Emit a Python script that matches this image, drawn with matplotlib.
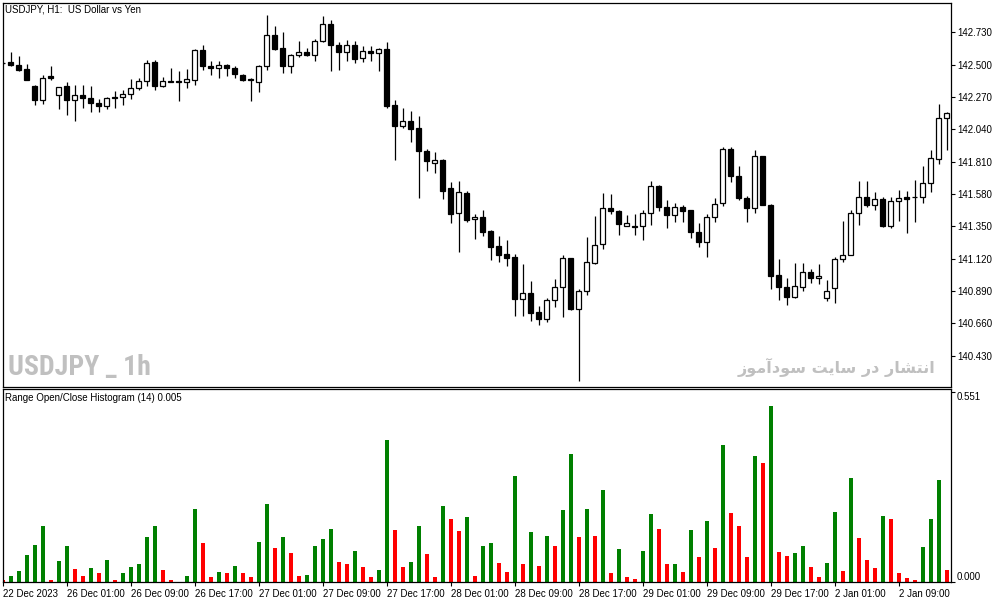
import numpy as np
import matplotlib.pyplot as plt
from matplotlib import font_manager

plt.rcParams['font.family'] = ['Liberation Sans', 'DejaVu Sans']

# canvas size in pixels
W, H = 1003, 603

# USDJPY H1 candles (one per hour, left to right)
opens = [142.514, 142.517, 142.500, 142.472, 142.351, 142.246, 142.422, 142.284, 142.351, 142.251,
         142.287, 142.263, 142.227, 142.203, 142.270, 142.270, 142.292, 142.334, 142.386, 142.517,
         142.346, 142.386, 142.381, 142.377, 142.388, 142.607, 142.493, 142.474, 142.500, 142.479,
         142.429, 142.400, 142.374, 142.488, 142.714, 142.619, 142.488, 142.569, 142.593, 142.569,
         142.666, 142.792, 142.643, 142.588, 142.643, 142.548, 142.600, 142.583, 142.614, 142.215,
         142.061, 142.101, 142.049, 141.888, 141.804, 141.824, 141.622, 141.444, 141.587, 141.401,
         141.416, 141.318, 141.211, 141.154, 141.131, 140.832, 140.874, 140.739, 140.689, 140.827,
         140.921, 141.124, 140.761, 140.891, 141.088, 141.226, 141.480, 141.460, 141.356, 141.354,
         141.356, 141.444, 141.638, 141.489, 141.432, 141.491, 141.463, 141.313, 141.242, 141.416,
         141.515, 141.900, 141.710, 141.553, 141.480, 141.847, 141.503, 141.005, 140.917, 140.846,
         140.917, 141.024, 140.981, 140.839, 140.914, 141.117, 141.147, 141.444, 141.562, 141.503,
         141.544, 141.354, 141.527, 141.560, 141.558, 141.562, 141.658, 141.829, 142.121]
highs = [142.518, 142.588, 142.559, 142.507, 142.355, 142.429, 142.493, 142.343, 142.374, 142.358,
         142.358, 142.351, 142.256, 142.270, 142.310, 142.317, 142.398, 142.405, 142.536, 142.536,
         142.413, 142.477, 142.452, 142.470, 142.612, 142.643, 142.529, 142.529, 142.507, 142.488,
         142.436, 142.405, 142.496, 142.856, 142.773, 142.735, 142.578, 142.669, 142.619, 142.683,
         142.849, 142.821, 142.659, 142.673, 142.666, 142.630, 142.635, 142.619, 142.659, 142.251,
         142.192, 142.173, 142.137, 141.902, 141.878, 141.829, 141.669, 141.674, 141.603, 141.439,
         141.468, 141.325, 141.282, 141.254, 141.154, 141.083, 140.964, 140.784, 140.839, 140.974,
         141.147, 141.128, 140.903, 141.273, 141.425, 141.587, 141.582, 141.468, 141.432, 141.439,
         141.468, 141.674, 141.646, 141.539, 141.515, 141.503, 141.468, 141.373, 141.439, 141.553,
         141.914, 141.918, 141.776, 141.567, 141.890, 141.852, 141.508, 141.119, 140.986, 141.088,
         141.092, 141.045, 141.083, 140.969, 141.131, 141.391, 141.468, 141.674, 141.674, 141.591,
         141.558, 141.562, 141.610, 141.603, 141.681, 141.781, 141.895, 142.222, 142.165]
lows = [142.507, 142.488, 142.452, 142.388, 142.215, 142.222, 142.388, 142.185, 142.144, 142.096,
        142.192, 142.160, 142.160, 142.185, 142.192, 142.215, 142.256, 142.317, 142.351, 142.322,
        142.341, 142.374, 142.239, 142.334, 142.358, 142.465, 142.427, 142.403, 142.417, 142.403,
        142.381, 142.239, 142.303, 142.460, 142.607, 142.441, 142.441, 142.555, 142.564, 142.524,
        142.659, 142.452, 142.460, 142.524, 142.512, 142.517, 142.524, 142.452, 142.192, 141.824,
        142.049, 141.947, 141.551, 141.747, 141.733, 141.544, 141.377, 141.171, 141.384, 141.261,
        141.282, 141.112, 141.099, 141.069, 140.713, 140.713, 140.679, 140.649, 140.672, 140.779,
        140.708, 140.758, 140.252, 140.862, 141.085, 141.190, 141.439, 141.290, 141.349, 141.290,
        141.254, 141.361, 141.456, 141.337, 141.384, 141.384, 141.266, 141.206, 141.135, 141.384,
        141.496, 141.662, 141.534, 141.384, 141.448, 141.500, 140.903, 140.827, 140.791, 140.843,
        140.893, 140.950, 140.941, 140.822, 140.807, 141.099, 141.144, 141.361, 141.491, 141.463,
        141.346, 141.337, 141.391, 141.302, 141.384, 141.515, 141.591, 141.795, 141.890]
closes = [142.511, 142.498, 142.465, 142.393, 142.246, 142.405, 142.408, 142.341, 142.246, 142.287,
          142.260, 142.227, 142.203, 142.263, 142.260, 142.292, 142.334, 142.386, 142.512, 142.346,
          142.386, 142.377, 142.380, 142.400, 142.607, 142.493, 142.474, 142.498, 142.474, 142.434,
          142.393, 142.388, 142.493, 142.714, 142.612, 142.488, 142.571, 142.593, 142.569, 142.669,
          142.792, 142.638, 142.588, 142.643, 142.543, 142.600, 142.583, 142.614, 142.208, 142.061,
          142.101, 142.044, 141.883, 141.812, 141.824, 141.603, 141.439, 141.591, 141.396, 141.420,
          141.313, 141.206, 141.147, 141.128, 140.832, 140.874, 140.736, 140.689, 140.827, 140.921,
          141.124, 140.761, 140.891, 141.095, 141.218, 141.480, 141.456, 141.366, 141.373, 141.342,
          141.444, 141.638, 141.487, 141.432, 141.491, 141.456, 141.313, 141.242, 141.416, 141.510,
          141.900, 141.705, 141.551, 141.480, 141.847, 141.503, 140.998, 140.921, 140.846, 140.926,
          141.024, 140.981, 140.998, 140.891, 141.117, 141.147, 141.444, 141.562, 141.503, 141.544,
          141.349, 141.532, 141.551, 141.546, 141.562, 141.658, 141.836, 142.121, 142.156]

# Range Open/Close Histogram (14) values
rng_hist = [0.004, 0.018, 0.030, 0.077, 0.106, 0.163, 0.004, 0.059, 0.103, 0.036,
            0.018, 0.039, 0.024, 0.062, 0.004, 0.024, 0.044, 0.050, 0.129, 0.163,
            0.033, 0.004, 0.000, 0.018, 0.210, 0.111, 0.015, 0.027, 0.024, 0.047,
            0.024, 0.013, 0.114, 0.224, 0.097, 0.129, 0.082, 0.018, 0.019, 0.105,
            0.123, 0.152, 0.056, 0.050, 0.088, 0.044, 0.015, 0.033, 0.410, 0.149,
            0.042, 0.056, 0.163, 0.079, 0.015, 0.219, 0.181, 0.146, 0.187, 0.018,
            0.105, 0.111, 0.053, 0.027, 0.306, 0.050, 0.143, 0.047, 0.134, 0.103,
            0.207, 0.369, 0.129, 0.210, 0.132, 0.265, 0.024, 0.094, 0.013, 0.007,
            0.088, 0.195, 0.152, 0.050, 0.051, 0.027, 0.149, 0.071, 0.175, 0.097,
            0.396, 0.198, 0.161, 0.073, 0.366, 0.343, 0.510, 0.085, 0.076, 0.082,
            0.105, 0.044, 0.015, 0.053, 0.201, 0.030, 0.300, 0.126, 0.062, 0.039,
            0.192, 0.181, 0.024, 0.010, 0.004, 0.100, 0.181, 0.294, 0.033]

price_ticks = [142.730, 142.500, 142.270, 142.040, 141.810, 141.580, 141.350, 141.120, 140.890, 140.660, 140.430]
hist_ticks = [0.000, 0.551]
time_ticks = [0, 8, 16, 24, 32, 40, 48, 56, 64, 72, 80, 88, 96, 104, 112]
time_labels = ['22 Dec 2023', '26 Dec 01:00', '26 Dec 09:00', '26 Dec 17:00', '27 Dec 01:00',
               '27 Dec 09:00', '27 Dec 17:00', '28 Dec 01:00', '28 Dec 09:00', '28 Dec 17:00',
               '29 Dec 01:00', '29 Dec 09:00', '29 Dec 17:00', '2 Jan 01:00', '2 Jan 09:00']

o = np.array(opens)
h = np.array(highs)
l = np.array(lows)
c = np.array(closes)
x = np.arange(len(o))
v = np.array(rng_hist)


def box(x0, y0, x1, y1):
    # pixel box -> figure fraction rect
    return [x0 / W, 1 - y1 / H, (x1 - x0) / W, (y1 - y0) / H]


fig = plt.figure(figsize=(W / 100, H / 100), dpi=100)
ax1 = fig.add_axes(box(2.7, 2.7, 950.7, 387.3))
ax2 = fig.add_axes(box(2.7, 389.3, 950.7, 582.3))

# candles
up = c >= o
body_lo = np.minimum(o, c)
body_h = np.maximum(np.abs(c - o), 0.004)
ax1.vlines(x, l, h, color='black', linewidth=0.9, zorder=1)
ax1.bar(x, body_h, bottom=body_lo, width=0.55,
        color=np.where(up, 'white', 'black'), edgecolor='black', linewidth=0.9, zorder=2)

ax1.set_xlim(0, 118.5)
ax1.set_ylim(140.205, 142.941)
ax1.set_xticks([])
ax1.yaxis.tick_right()
ax1.set_yticks(price_ticks)
ax1.set_yticklabels(['%.3f' % p for p in price_ticks])
ax1.tick_params(axis='y', direction='out', length=3, width=0.8, pad=1.5, labelsize=7)

# histogram: green when the value grows, red otherwise
grow = np.r_[False, v[1:] > v[:-1]]
ax2.bar(x, v, width=0.5, color=np.where(grow, '#008000', '#ff0000'))
ax2.set_xlim(0, 118.5)
ax2.set_ylim(-0.0017, 0.558)
ax2.yaxis.tick_right()
ax2.set_yticks(hist_ticks)
ax2.set_yticklabels(['%.3f' % t for t in hist_ticks])
for lbl, va in zip(ax2.get_yticklabels(), ['bottom', 'top']):
    lbl.set_va(va)
ax2.set_xticks(time_ticks)
ax2.set_xticklabels(time_labels, ha='left')
ax2.tick_params(axis='both', direction='out', length=3, width=0.8, pad=1.5, labelsize=7)

for ax in (ax1, ax2):
    for s in ax.spines.values():
        s.set_linewidth(0.9)

fig.text(5 / W, 1 - 10 / H, 'USDJPY, H1:  US Dollar vs Yen', fontsize=7, va='center')
fig.text(5 / W, 1 - 398 / H, 'Range Open/Close Histogram (14) 0.005', fontsize=7, va='center')

# watermarks
installed = {f.name for f in font_manager.fontManager.ttflist}
narrow = next((n for n in ['Liberation Sans Narrow', 'Roboto Condensed', 'Open Sans Condensed',
                           'DejaVu Sans Condensed'] if n in installed), 'DejaVu Sans')
wm = fig.text(8 / W, 1 - 375 / H, 'USDJPY _ 1h', fontsize=22, weight='bold', color='#c0c0c0',
              family=narrow, stretch='condensed', va='baseline')
# "انتشار در سایت سودآموز" written in shaped (presentation) forms, visual order
fa_text = ('\ufeaf\ufeee\ufee3\ufe81\ufea9\ufeee\ufeb3 \ufe96\ufef3\ufe8e\ufeb3 '
           '\ufead\ufea9 \ufead\ufe8e\ufeb8\ufe98\ufee7\ufe8d')
fa = fig.text(935 / W, 1 - 373 / H, fa_text, fontsize=15, weight='bold', color='#c0c0c0',
              family='DejaVu Sans', ha='right', va='baseline')

# shrink the watermarks to the widths they take on the chart
fig.canvas.draw()
r = fig.canvas.get_renderer()
for t, width_px in ((wm, 143), (fa, 197)):
    w_now = t.get_window_extent(r).width
    t.set_fontsize(t.get_fontsize() * width_px / w_now)

fig.savefig('out.png', dpi=100)
